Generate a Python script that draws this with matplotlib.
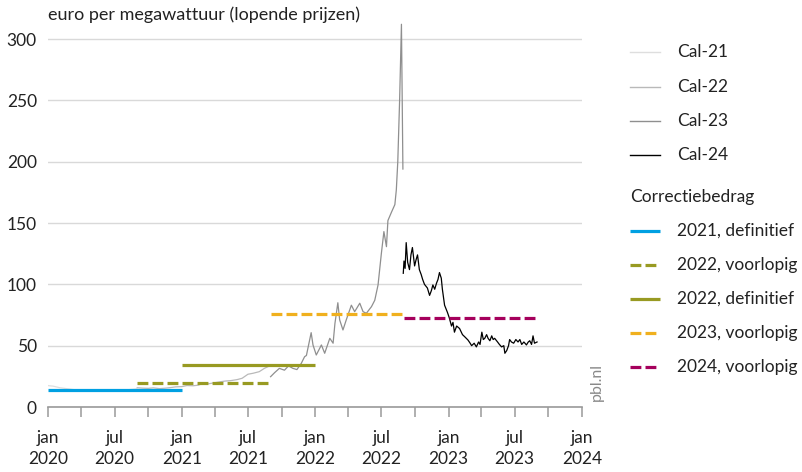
import matplotlib
matplotlib.use("Agg")
import matplotlib.pyplot as plt
import matplotlib.dates as mdates
from matplotlib.lines import Line2D
import pandas as pd

plt.rcParams["font.family"] = ["Lato", "DejaVu Sans"]

W, H = 803, 472
TXT = "#222222"
GRID = "#d9d9d9"
AXC = "#9a9a9a"

# ---------------------------------------------------------------------------
# Data
# ---------------------------------------------------------------------------
cal21_dates = ["2020-01-02", "2020-01-15", "2020-02-01", "2020-02-15", "2020-03-01",
               "2020-03-15", "2020-04-01", "2020-04-15", "2020-05-01", "2020-05-15",
               "2020-06-01", "2020-06-15", "2020-07-01", "2020-07-15", "2020-08-01",
               "2020-08-15", "2020-08-31"]
cal21_vals = [17.4, 17.0, 15.8, 15.2, 14.6, 14.0, 13.6, 13.2, 12.8, 12.9,
              13.1, 13.0, 13.3, 13.6, 13.9, 14.3, 14.8]

cal22_dates = ["2020-09-01", "2020-09-15", "2020-10-01", "2020-10-15", "2020-11-01",
               "2020-11-15", "2020-12-01", "2020-12-15", "2021-01-01", "2021-01-15",
               "2021-02-01", "2021-02-15", "2021-03-01", "2021-03-15", "2021-04-01",
               "2021-04-15", "2021-05-01", "2021-05-15", "2021-06-01", "2021-06-15",
               "2021-07-01", "2021-07-15", "2021-08-01", "2021-08-15", "2021-08-25",
               "2021-08-31"]
cal22_vals = [15.7, 15.4, 15.2, 15.6, 15.0, 15.3, 15.8, 16.4, 16.6, 17.5,
              17.3, 17.8, 19.3, 18.9, 19.8, 20.5, 21.2, 21.5, 22.3, 23.4,
              26.7, 27.5, 28.8, 31.5, 32.9, 34.3]

cal23_dates = ["2021-09-01", "2021-09-12", "2021-09-25", "2021-10-09", "2021-10-20",
               "2021-11-01", "2021-11-12", "2021-11-24", "2021-12-03", "2021-12-08",
               "2021-12-21", "2021-12-26", "2022-01-04", "2022-01-18", "2022-01-27",
               "2022-02-10", "2022-02-19", "2022-02-24", "2022-03-04", "2022-03-09",
               "2022-03-18", "2022-03-27", "2022-04-10", "2022-04-19", "2022-05-03",
               "2022-05-12", "2022-05-21", "2022-06-04", "2022-06-13", "2022-06-22",
               "2022-07-01", "2022-07-08", "2022-07-15", "2022-07-19", "2022-07-29",
               "2022-08-07", "2022-08-11", "2022-08-15", "2022-08-20", "2022-08-25",
               "2022-08-29"]
cal23_vals = [24.7, 28.0, 31.5, 30.0, 33.5, 31.5, 30.5, 35.6, 41.0, 42.0,
              60.6, 50.6, 42.4, 50.6, 43.8, 56.0, 52.0, 68.0, 85.0, 71.0,
              62.8, 71.0, 83.0, 77.7, 84.6, 77.7, 76.4, 81.8, 87.0, 99.5,
              125.0, 143.0, 130.7, 152.0, 159.0, 165.0, 177.0, 200.0, 250.0, 312.0,
              194.0]

cal24_dates = ["2022-08-30", "2022-09-01", "2022-09-04", "2022-09-07", "2022-09-11",
               "2022-09-16", "2022-09-20", "2022-09-24", "2022-09-30", "2022-10-04",
               "2022-10-08", "2022-10-13", "2022-10-18", "2022-10-22", "2022-10-27",
               "2022-11-04", "2022-11-10", "2022-11-15", "2022-11-19", "2022-11-24",
               "2022-11-29", "2022-12-03", "2022-12-07", "2022-12-12", "2022-12-15",
               "2022-12-21", "2022-12-29", "2023-01-03", "2023-01-09", "2023-01-13",
               "2023-01-17", "2023-01-23", "2023-01-31", "2023-02-08", "2023-02-15",
               "2023-02-23", "2023-03-01", "2023-03-05", "2023-03-12", "2023-03-18",
               "2023-03-24", "2023-03-28", "2023-04-02", "2023-04-06", "2023-04-10",
               "2023-04-15", "2023-04-19", "2023-04-24", "2023-04-29", "2023-05-03",
               "2023-05-07", "2023-05-15", "2023-05-20", "2023-05-26", "2023-06-01",
               "2023-06-04", "2023-06-09", "2023-06-14", "2023-06-17", "2023-06-22",
               "2023-06-28", "2023-07-04", "2023-07-10", "2023-07-15", "2023-07-20",
               "2023-07-26", "2023-08-02", "2023-08-07", "2023-08-11", "2023-08-16",
               "2023-08-20", "2023-08-24", "2023-08-31"]
cal24_vals = [109, 119, 113, 134, 118, 112, 124, 130, 115, 120,
              124, 112, 108, 104, 100, 97, 91, 95, 99.5, 96,
              101, 104, 109.6, 105, 96, 83, 77, 72.6, 66, 69,
              61, 66, 64, 59, 57, 54.6, 52, 50, 52, 49,
              53, 51, 61, 55, 56, 59, 56, 54, 58, 55,
              56, 53, 51, 49, 50, 43.8, 46, 50, 55, 53,
              52, 55, 53, 55, 51, 53, 50.6, 53, 54, 51,
              58, 52, 53]

cal_labels = ["Cal-21", "Cal-22", "Cal-23", "Cal-24"]
cal_colors = ["#dedede", "#b9b9b9", "#8f8f8f", "#000000"]

corr_labels = ["2021, definitief", "2022, voorlopig", "2022, definitief",
               "2023, voorlopig", "2024, voorlopig"]
corr_start = ["2020-01-01", "2020-09-01", "2021-01-01", "2021-09-01", "2022-09-01"]
corr_end = ["2021-01-01", "2021-09-01", "2022-01-01", "2022-09-01", "2023-09-01"]
corr_vals = [13.5, 19.8, 34.5, 75.8, 72.3]
corr_dashed = [False, True, False, True, True]
corr_colors = ["#00a0e2", "#989a22", "#989a22", "#f0b01e", "#a5005c"]

# ---------------------------------------------------------------------------
# Figure
# ---------------------------------------------------------------------------
fig = plt.figure(figsize=(W / 100, H / 100), dpi=100)
ax = fig.add_axes([48 / W, (H - 407) / H, (582 - 48) / W, (407 - 20.6) / H])

DASH = (0, (3.4, 1.3))

series = [(cal21_dates, cal21_vals), (cal22_dates, cal22_vals),
          (cal23_dates, cal23_vals), (cal24_dates, cal24_vals)]
for (d, v), c in zip(series, cal_colors):
    ax.plot(pd.to_datetime(d), v, color=c, linewidth=0.9, zorder=3)

for s, e, v, dsh, c in zip(corr_start, corr_end, corr_vals, corr_dashed, corr_colors):
    ax.plot(pd.to_datetime([s, e]), [v, v], color=c, linewidth=2.3,
            linestyle=DASH if dsh else "-", solid_capstyle="butt",
            dash_capstyle="butt", zorder=4)

ax.set_xlim(pd.Timestamp("2020-01-01"), pd.Timestamp("2024-01-01"))
ax.set_ylim(0, 315)
ax.set_yticks([0, 50, 100, 150, 200, 250, 300])
ax.grid(axis="y", color=GRID, linewidth=1.0, zorder=0)
ax.set_axisbelow(True)

for sp in ["top", "right", "left"]:
    ax.spines[sp].set_visible(False)
ax.spines["bottom"].set_color(AXC)
ax.spines["bottom"].set_linewidth(1.2)

MONTHS = {1: "jan", 7: "jul"}
ax.xaxis.set_major_locator(mdates.MonthLocator(bymonth=[1, 7]))
ax.xaxis.set_minor_locator(mdates.MonthLocator(bymonth=[4, 10]))
ax.xaxis.set_major_formatter(plt.FuncFormatter(
    lambda x, p: "%s\n%d" % (MONTHS.get(mdates.num2date(x).month, ""),
                             mdates.num2date(x).year)))
ax.tick_params(axis="x", which="both", length=7.5, width=1.1, color=AXC,
               direction="out")
ax.tick_params(axis="x", which="major", labelsize=12.5, labelcolor=TXT, pad=9)
for lab in ax.get_xticklabels():
    lab.set_linespacing(1.4)
ax.tick_params(axis="y", length=0, labelsize=12.5, labelcolor=TXT, pad=8)

fig.text(48 / W, 1 - 15 / H, "euro per megawattuur (lopende prijzen)",
         fontsize=13, color=TXT, ha="left", va="center")

fig.text(597 / W, 1 - 401 / H, "pbl.nl", rotation=90, fontsize=11.5,
         color="#8a8a8a", ha="center", va="bottom")

# Legend, drawn by hand
x0, x1, xt = 630 / W, 660 / W, 677 / W
rows = [52, 87, 121, 155]
for y, lab, c in zip(rows, cal_labels, cal_colors):
    fy = 1 - y / H
    fig.add_artist(Line2D([x0, x1], [fy, fy], color=c, linewidth=1.0))
    fig.text(xt, fy, lab, fontsize=12.5, color=TXT, ha="left", va="center")

fig.text(x0, 1 - 197 / H, "Correctiebedrag", fontsize=12.5, color=TXT,
         ha="left", va="center")
rows2 = [231, 265, 299, 333, 367]
for y, lab, dsh, c in zip(rows2, corr_labels, corr_dashed, corr_colors):
    fy = 1 - y / H
    fig.add_artist(Line2D([x0, x1], [fy, fy], color=c, linewidth=2.3,
                          linestyle=DASH if dsh else "-",
                          solid_capstyle="butt", dash_capstyle="butt"))
    fig.text(xt, fy, lab, fontsize=12.5, color=TXT, ha="left", va="center")

fig.savefig("out.png", dpi=100)
